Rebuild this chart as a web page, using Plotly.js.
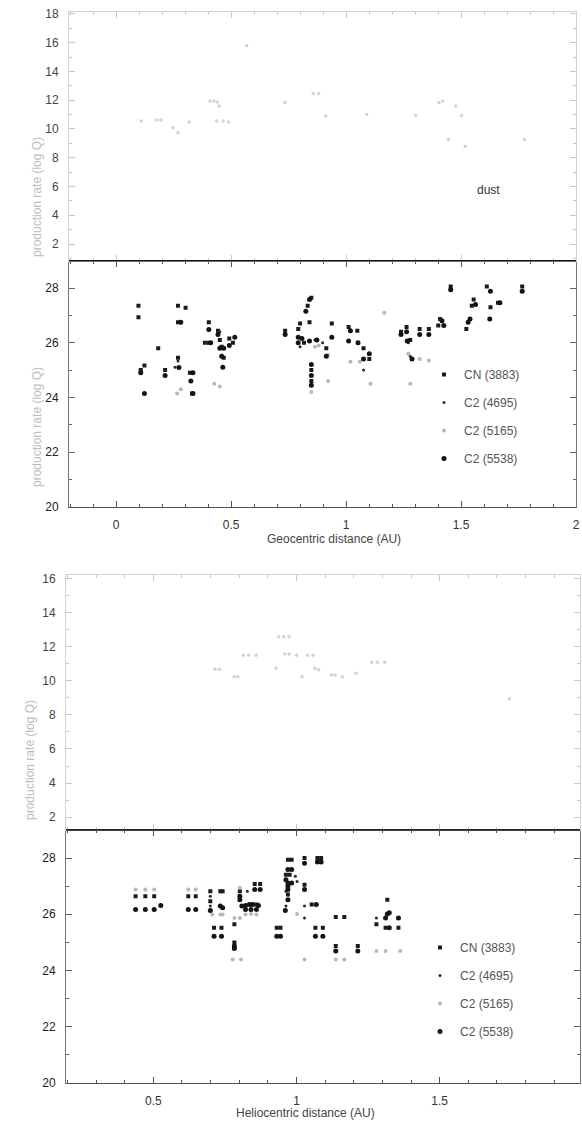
<!DOCTYPE html>
<html>
<head>
<meta charset="utf-8">
<script src="https://cdn.plot.ly/plotly-3.0.1.min.js"></script>
<style>html,body{margin:0;padding:0;background:#fff;}#chart{width:582px;height:1135px;}</style>
</head>
<body>
<div id="chart"></div>
<script>
// ---------- Geocentric figure ----------
// dust (panel A)
const geoDustX = [0.110,0.176,0.195,0.247,0.269,0.318,0.408,0.425,0.440,0.448,0.437,0.465,0.489,0.568,0.734,0.857,0.881,0.911,1.090,1.303,1.404,1.420,1.477,1.502,1.445,1.518,1.776];
const geoDustY = [10.55,10.62,10.62,10.08,9.73,10.48,11.94,11.94,11.87,11.59,10.55,10.55,10.48,15.79,11.83,12.46,12.46,10.90,11.01,10.94,11.83,11.94,11.59,10.94,9.27,8.80,9.27];
// gases (panel B)
const geoCNX = [0.097,0.097,0.107,0.123,0.183,0.213,0.269,0.269,0.269,0.302,0.321,0.330,0.403,0.386,0.403,0.443,0.451,0.459,0.468,0.492,0.508,0.735,0.792,0.800,0.817,0.833,0.849,0.841,0.849,0.849,0.914,0.938,1.011,1.049,1.076,1.101,1.239,1.263,1.279,1.320,1.360,1.401,1.409,1.455,1.523,1.547,1.555,1.612,1.628,1.661,1.766];
const geoCNY = [27.35,26.93,25.0,25.17,25.8,25.0,27.35,26.75,25.45,27.28,24.9,24.14,26.75,26.0,26.0,26.44,26.1,25.85,25.45,26.15,26.0,26.44,26.5,26.7,26.0,27.35,27.64,26.75,25.0,24.6,25.8,26.7,26.57,26.44,25.8,25.4,26.4,26.57,26.1,26.5,26.5,26.63,26.87,28.06,26.5,27.35,27.58,28.06,27.3,27.46,28.06];
const geoC4695X = [0.256,0.269,0.394,0.451,0.800,0.865,0.898,1.271,1.279,1.076];
const geoC4695Y = [25.1,25.33,26.0,26.4,25.85,26.1,26.0,26.0,25.5,25.0];
const geoC5165X = [0.265,0.281,0.427,0.451,0.849,0.865,0.881,0.922,0.922,1.019,1.060,1.106,1.166,1.279,1.271,1.320,1.360];
const geoC5165Y = [24.14,24.3,24.5,24.4,24.2,25.85,25.9,25.56,24.6,25.3,25.3,24.5,27.1,24.5,25.6,25.4,25.35];
const geoC5538X = [0.107,0.123,0.213,0.281,0.273,0.334,0.325,0.334,0.403,0.411,0.443,0.451,0.459,0.464,0.468,0.492,0.516,0.735,0.792,0.792,0.808,0.825,0.841,0.841,0.849,0.849,0.849,0.873,0.914,0.938,1.019,1.011,1.052,1.076,1.101,1.239,1.263,1.266,1.287,1.320,1.360,1.417,1.425,1.455,1.531,1.539,1.563,1.625,1.628,1.669,1.766];
const geoC5538Y = [24.9,24.14,24.8,26.75,25.09,24.9,24.6,24.14,26.48,26.0,26.3,25.8,25.5,25.1,25.8,25.9,26.2,26.3,26.2,26.0,26.15,27.15,27.58,26.06,25.2,24.8,24.44,26.1,25.5,26.2,26.44,26.06,26.0,25.4,25.6,26.3,26.4,26.06,25.4,26.3,26.3,26.8,26.63,27.94,26.75,26.87,27.4,26.87,27.88,27.46,27.88];

// ---------- Heliocentric figure ----------
const helDustX = [0.715,0.731,0.782,0.795,0.814,0.833,0.859,0.938,0.955,0.974,0.929,0.959,0.974,1.0,1.038,1.058,1.019,1.064,1.077,1.122,1.135,1.160,1.208,1.263,1.282,1.308,1.744];
const helDustY = [10.68,10.68,10.24,10.24,11.49,11.49,11.49,12.58,12.58,12.58,10.74,11.57,11.57,11.49,11.49,11.49,10.24,10.74,10.64,10.34,10.34,10.24,10.44,11.08,11.08,11.08,8.95];
const helCNX = [0.438,0.472,0.503,0.622,0.648,0.699,0.699,0.712,0.734,0.742,0.738,0.783,0.783,0.802,0.841,0.860,0.854,0.873,0.931,0.944,0.970,0.983,0.963,0.976,0.970,1.028,1.028,1.053,1.073,1.086,1.066,1.092,1.137,1.167,1.137,1.214,1.279,1.317,1.311,1.356];
const helCNY = [26.64,26.64,26.64,26.64,26.64,26.82,26.46,25.52,26.82,26.82,25.52,25.64,24.99,26.82,26.35,26.35,27.08,27.08,25.52,25.52,27.94,27.94,27.41,27.41,26.70,28.0,27.05,26.35,28.0,28.0,25.52,25.52,25.90,25.90,24.87,24.87,25.64,26.52,25.52,25.52];
const helC4695X = [0.699,0.699,0.828,0.963,0.963,0.996,1.002,1.028,1.028,1.279];
const helC4695Y = [26.64,26.29,26.82,26.29,26.82,27.35,27.17,26.29,25.87,25.87];
const helC5165X = [0.438,0.472,0.503,0.622,0.648,0.706,0.734,0.742,0.777,0.806,0.783,0.802,0.802,0.822,0.841,0.860,1.002,1.028,1.137,1.167,1.279,1.311,1.362];
const helC5165Y = [26.88,26.88,26.88,26.88,26.88,25.99,25.99,25.99,24.39,24.39,25.87,25.87,26.94,25.99,26.01,25.99,26.01,24.39,24.39,24.39,24.69,24.69,24.69];
const helC5538X = [0.438,0.472,0.503,0.526,0.622,0.648,0.699,0.712,0.734,0.742,0.738,0.783,0.783,0.802,0.802,0.809,0.822,0.835,0.847,0.867,0.822,0.841,0.860,0.854,0.873,0.931,0.944,0.970,0.983,0.963,0.970,0.983,0.970,0.970,0.970,0.961,1.028,1.028,1.069,1.073,1.086,1.066,1.092,1.137,1.214,1.311,1.317,1.324,1.324,1.356];
const helC5538Y = [26.17,26.17,26.17,26.31,26.17,26.17,26.13,25.22,26.29,26.23,25.22,24.87,24.78,26.64,26.52,26.29,26.31,26.35,26.35,26.31,26.17,26.17,26.17,26.88,26.88,25.22,25.22,27.59,27.59,27.23,27.11,27.11,27.0,26.88,26.52,26.13,27.82,26.88,26.35,27.86,27.86,25.22,25.22,24.69,24.69,25.87,26.01,26.05,25.52,25.87];

const seriesNames = ['CN (3883)','C2 (4695)','C2 (5165)','C2 (5538)'];
const xTickVals = [0,0.5,1,1.5,2];
const xTickText = ['0','0.5','1','1.5','2'];
const yTitle = 'production rate (log Q)';

const FONT = 'Liberation Sans, Arial, Helvetica, sans-serif';
const styles = [
  {symbol:'square', size:4, color:'#1b1b1b'},
  {symbol:'circle', size:3, color:'#2a2a2a'},
  {symbol:'circle', size:4, color:'#b8b8b8'},
  {symbol:'circle', size:5, color:'#141414'}
];
function gasTraces(xs, ys, xa, ya, leg){
  return xs.map((x,i)=>({
    type:'scatter', mode:'markers', x:x, y:ys[i], xaxis:xa, yaxis:ya,
    name:seriesNames[i], legend:leg, legendgroup:leg+i,
    marker:{symbol:styles[i].symbol, size:styles[i].size, color:styles[i].color, line:{width:0}},
    hoverinfo:'x+y'
  }));
}
const dustMarker = {symbol:'circle', size:3.5, color:'#d3d3d3', line:{width:0}};
const data = [
  {type:'scatter', mode:'markers', x:geoDustX, y:geoDustY, xaxis:'x2', yaxis:'y', marker:dustMarker, showlegend:false},
  ...gasTraces([geoCNX,geoC4695X,geoC5165X,geoC5538X],[geoCNY,geoC4695Y,geoC5165Y,geoC5538Y],'x','y2','legend'),
  {type:'scatter', mode:'markers', x:helDustX, y:helDustY, xaxis:'x4', yaxis:'y3', marker:dustMarker, showlegend:false},
  ...gasTraces([helCNX,helC4695X,helC5165X,helC5538X],[helCNY,helC4695Y,helC5165Y,helC5538Y],'x3','y4','legend2')
];

const W=582, H=1135;
const px = v => v/W, py = v => 1 - v/H;
const topX = [px(69), px(576)];
const botX = [px(66), px(580)];
const dA = [py(260.7), py(11.7)], dB = [py(506.7), py(260.7)];
const dC = [py(830), py(575)], dD = [py(1082.7), py(830)];

function xax(domain, range, anchor, labels, lineColor, tickColor){
  return {domain:domain, range:range, anchor:anchor, showgrid:false, zeroline:false,
    showline:true, linecolor:lineColor, linewidth:1, mirror:'ticks',
    ticks:'inside', ticklen:6, tickcolor:tickColor, tickwidth:1,
    tickvals:xTickVals, ticktext:xTickText, showticklabels:labels,
    ticklabelstandoff:7,
    tickfont:{family:FONT, size:12, color:'#333'},
    minor:{ticks:'inside', ticklen:3, dtick:0.1, tick0:0, tickcolor:tickColor, showgrid:false}};
}
function yax(domain, range, anchor, lineColor, tickColor, labelColor){
  return {domain:domain, range:range, anchor:anchor, showgrid:false, zeroline:false,
    showline:true, linecolor:lineColor, linewidth:1, mirror:'ticks',
    ticks:'inside', ticklen:6, tickcolor:tickColor, tickwidth:1,
    tick0:0, dtick:2, ticklabelstandoff:7,
    tickfont:{family:FONT, size:12, color:labelColor},
    minor:{ticks:'inside', ticklen:3, dtick:1, tick0:0, tickcolor:tickColor, showgrid:false}};
}

const legendCommon = {orientation:'v', xanchor:'left', yanchor:'top', bgcolor:'rgba(0,0,0,0)',
  borderwidth:0, itemwidth:30, tracegroupgap:9, font:{family:FONT, size:12, color:'#555'}, itemclick:false};

const layout = {
  width:W, height:H, margin:{l:0,r:0,t:0,b:0},
  paper_bgcolor:'#ffffff', plot_bgcolor:'rgba(0,0,0,0)',
  font:{family:FONT},
  showlegend:true,
  xaxis: xax(topX, [-0.205, 2.0], 'y2', true, '#555', '#555'),
  xaxis2: Object.assign(xax(topX, [-0.205, 2.0], 'y', false, '#d2d2d2', '#c8c8c8'), {matches:'x'}),
  yaxis: yax(dA, [0.84, 18.15], 'x2', '#d2d2d2', '#c8c8c8', '#444'),
  yaxis2: yax(dB, [20, 29], 'x', '#777', '#666', '#222'),
  xaxis3: xax(botX, [0.195, 1.99], 'y4', true, '#555', '#555'),
  xaxis4: Object.assign(xax(botX, [0.195, 1.99], 'y3', false, '#d2d2d2', '#c8c8c8'), {matches:'x3'}),
  yaxis3: yax(dC, [1.25, 16.2], 'x4', '#d2d2d2', '#c8c8c8', '#444'),
  yaxis4: yax(dD, [20, 29], 'x3', '#777', '#666', '#222'),
  legend: Object.assign({x:px(424), y:py(360)}, legendCommon),
  legend2: Object.assign({x:px(420), y:py(933)}, legendCommon),
  shapes:[
    {type:'line', xref:'paper', yref:'paper', x0:topX[0], x1:topX[1], y0:dA[0], y1:dA[0], line:{color:'#111', width:1.6}, layer:'above'},
    {type:'line', xref:'paper', yref:'paper', x0:botX[0], x1:botX[1], y0:dC[0], y1:dC[0], line:{color:'#111', width:1.6}, layer:'above'}
  ],
  annotations:[
    {text:yTitle, xref:'paper', yref:'paper', x:px(28), y:py(135), textangle:-90, showarrow:false, font:{family:FONT, size:12, color:'#bdbdbd'}},
    {text:yTitle, xref:'paper', yref:'paper', x:px(28), y:py(365), textangle:-90, showarrow:false, font:{family:FONT, size:12, color:'#bdbdbd'}},
    {text:yTitle, xref:'paper', yref:'paper', x:px(21), y:py(822), textangle:-90, showarrow:false, font:{family:FONT, size:12, color:'#bdbdbd'}},
    {text:'Geocentric distance (AU)', xref:'paper', yref:'paper', x:px(334), y:py(539), showarrow:false, font:{family:FONT, size:12, color:'#444'}},
    {text:'Heliocentric distance (AU)', xref:'paper', yref:'paper', x:px(305), y:py(1122), showarrow:false, font:{family:FONT, size:12, color:'#444'}},
    {text:'dust', xref:'x2', yref:'y', x:1.56, y:5.74, xanchor:'left', showarrow:false, font:{family:FONT, size:12, color:'#333'}}
  ]
};
Plotly.newPlot('chart', data, layout, {staticPlot:true, displayModeBar:false});
</script>
</body>
</html>
